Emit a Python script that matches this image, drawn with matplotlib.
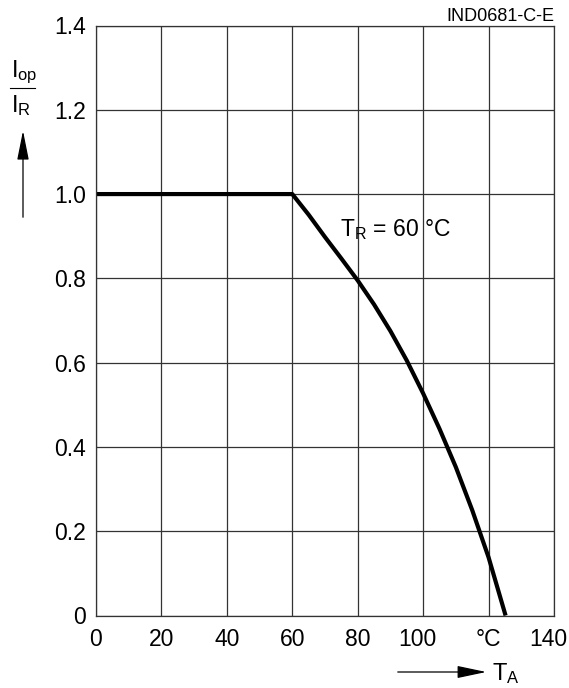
import matplotlib
matplotlib.use("Agg")
from matplotlib import pyplot as plt
from matplotlib.patches import FancyArrowPatch
from matplotlib.transforms import ScaledTranslation

plt.rcParams['font.family'] = ['Liberation Sans', 'DejaVu Sans']
plt.rcParams['mathtext.fontset'] = 'custom'
plt.rcParams['mathtext.rm'] = 'Liberation Sans'
plt.rcParams['mathtext.it'] = 'Liberation Sans'

# derating curve
temp = [0, 60, 65, 70, 75, 80, 85, 90, 95, 100, 105, 110, 115, 120, 125.2]
ratio = [1.0, 1.0, 0.951, 0.898, 0.847, 0.795, 0.738, 0.675, 0.605, 0.527, 0.443, 0.352, 0.250, 0.138, 0.0]

x_ticks = [0, 20, 40, 60, 80, 100, 120, 140]
x_labels = ["0", "20", "40", "60", "80", "100", "°C", "140"]
y_ticks = [0, 0.2, 0.4, 0.6, 0.8, 1.0, 1.2, 1.4]
y_labels = ["0", "0.2", "0.4", "0.6", "0.8", "1.0", "1.2", "1.4"]

W, H = 569, 688
fig = plt.figure(figsize=(W / 100, H / 100), dpi=100)

def fx(px):
    return px / W

def fy(py):
    return 1 - py / H

ax = fig.add_axes([fx(96), fy(615.5), (554 - 96) / W, (615.5 - 25.5) / H])
ax.plot(temp, ratio, color='black', lw=3.0, solid_capstyle='butt', solid_joinstyle='round')
ax.set_xlim(0, 140)
ax.set_ylim(0, 1.4)
ax.set_xticks(x_ticks)
ax.set_xticklabels(x_labels)
ax.set_yticks(y_ticks)
ax.set_yticklabels(y_labels)
ax.tick_params(length=0, labelsize=16.5)
ax.tick_params(axis='x', pad=9)
ax.tick_params(axis='y', pad=7)
ax.grid(True, color='#333333', lw=0.9)
for s in ax.spines.values():
    s.set_color('#333333')
    s.set_linewidth(0.9)

# the three-digit labels sit a bit left of their grid lines in the original
for lab in ax.get_xticklabels():
    if lab.get_text() in ("100", "140"):
        lab.set_transform(lab.get_transform() + ScaledTranslation(-6 / 100, 0, fig.dpi_scale_trans))

fig.text(fx(340), fy(236), r'$\mathrm{T_R}$ = 60 °C', fontsize=16.5, ha='left', va='baseline')

fig.text(fx(554), fy(21), "IND0681-C-E", fontsize=13, ha='right', va='baseline')

# y-axis label: I_op / I_R with arrow
fig.text(fx(11), fy(77), r'$\mathrm{I_{op}}$', fontsize=17, ha='left', va='baseline')
fig.add_artist(plt.Line2D([fx(10), fx(35)], [fy(87.5), fy(87.5)], color='black', lw=0.8))
fig.text(fx(11), fy(112), r'$\mathrm{I_R}$', fontsize=17, ha='left', va='baseline')
fig.add_artist(FancyArrowPatch((fx(23), fy(220)), (fx(23), fy(128)), transform=fig.transFigure,
                               arrowstyle='-|>,head_length=1.8,head_width=0.36',
                               mutation_scale=10, color='black', lw=0.9))

# x-axis label: arrow and T_A
fig.add_artist(FancyArrowPatch((fx(395), fy(672)), (fx(489), fy(672)), transform=fig.transFigure,
                               arrowstyle='-|>,head_length=1.8,head_width=0.38',
                               mutation_scale=10, color='black', lw=0.9))
fig.text(fx(492), fy(680), r'$\mathrm{T_A}$', fontsize=17, ha='left', va='baseline')

fig.savefig("out.png", dpi=100)
